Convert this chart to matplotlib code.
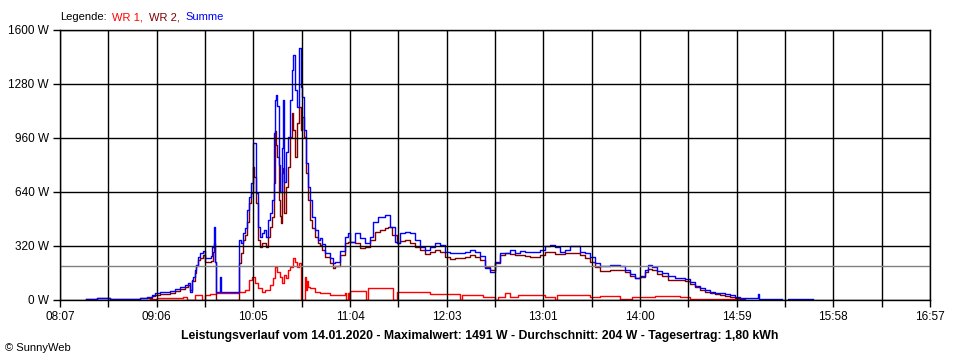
import matplotlib
matplotlib.use("Agg")
import matplotlib.pyplot as plt
import numpy as np
from matplotlib.offsetbox import TextArea, HPacker, AnnotationBbox

plt.rcParams["font.family"] = ["Liberation Sans", "DejaVu Sans"]

# time axis in minutes since midnight: 08:07 .. 16:57
t_start, t_end = 487, 1017
x_labels = ["08:07", "09:06", "10:05", "11:04", "12:03",
            "13:01", "14:00", "14:59", "15:58", "16:57"]
y_ticks = [0, 320, 640, 960, 1280, 1600]
y_labels = ["0 W", "320 W", "640 W", "960 W", "1280 W", "1600 W"]
durchschnitt = 204

# Summe (blue)
summe_t = [503, 509.5, 517.5, 535.7, 540, 543, 545, 548, 554, 557,
           560, 563, 565, 566.2, 567.4, 568, 569.2, 570, 571, 572.3,
           574, 575.3, 577, 579, 579.6, 580.8, 581.4, 582, 584.2, 585,
           596, 597.3, 598.5, 599.7, 600.9, 602.1, 603.4, 604.6, 605.2, 606.4,
           607.6, 608.8, 610.1, 611.3, 612.5, 613.7, 614.9, 616.2, 617.4, 618,
           618.6, 619.2, 620.4, 621, 622.3, 622.9, 623.5, 624.7, 625.9, 627.1,
           628.3, 628.9, 630.2, 631.4, 632.6, 633.8, 634.4, 635.6, 636.9, 638.1,
           639.3, 640.5, 642.3, 644.2, 645.4, 646.6, 648.4, 651.5, 653.3, 654.5,
           657.6, 660.6, 662.4, 663.7, 666.7, 669.8, 672.8, 675.9, 677.7, 680.7,
           685, 688, 691.1, 692.3, 694.1, 697.2, 700.2, 703.3, 706.3, 709.4,
           712.4, 715.5, 718.5, 721.5, 724.6, 727.6, 730.7, 733.7, 736.8, 739.8,
           742.9, 745.9, 749, 752, 755, 758.1, 761.1, 764.2, 767.2, 770.3,
           773.3, 776.4, 779.4, 782.5, 785.5, 788.6, 791.6, 794.6, 797.7, 800.7,
           803.8, 806.8, 809.9, 812.9, 816, 819, 822.1, 825.1, 828.2, 831.2,
           834.2, 837.3, 840.3, 843.4, 845.2, 847.7, 850.7, 853.8, 857.4, 861.7,
           864.7, 867.8, 870.8, 873.8, 876.9, 879.9, 883, 886, 889.1, 892.1,
           895.2, 898.2, 901.3, 912, 912.6, 926.8, 930.5, 945.7]
summe_w = [6, 12, 6, 12, 18, 30, 41, 47, 53, 65,
           77, 89, 100, 47, 118, 136, 178, 207, 255, 278,
           290, 249, 249, 261, 314, 433, 225, 45, 136, 45,
           356, 338, 397, 427, 533, 610, 693, 930, 930, 634,
           433, 373, 397, 415, 373, 474, 515, 593, 990, 1185,
           1215, 1150, 800, 640, 900, 1185, 700, 880, 966, 1185,
           1363, 1452, 1244, 1144, 1491, 1262, 1203, 1007, 811, 670,
           593, 492, 415, 356, 367, 330, 280, 250, 219, 225,
           290, 373, 397, 344, 397, 367, 338, 373, 462, 492,
           504, 433, 344, 338, 397, 403, 397, 356, 314, 296,
           314, 338, 326, 284, 278, 278, 278, 284, 296, 284,
           260, 190, 166, 225, 278, 278, 296, 278, 290, 284,
           284, 284, 296, 320, 326, 314, 284, 296, 320, 320,
           284, 278, 255, 219, 200, 200, 207, 207, 200, 180,
           155, 133, 140, 180, 207, 196, 172, 160, 142, 130,
           130, 124, 107, 83, 71, 59, 47, 41, 41, 36,
           30, 18, 12, 36, 8, np.nan, 8, 8]

# WR 2 (dark red)
wr2_t = [503, 509.5, 517.5, 535.7, 540, 543, 545, 548, 554, 557,
         560, 563, 565, 566.2, 567.4, 569.2, 570, 571, 572.3, 574,
         575.3, 577, 579, 580.2, 580.8, 581.4, 582, 596, 597.3, 598.5,
         599.7, 600.9, 602.1, 603.4, 604.6, 605.2, 606.4, 607.6, 608.8, 610.1,
         611.3, 612.5, 613.7, 614.9, 616.2, 617.4, 618, 618.6, 619.2, 620.4,
         621, 621.6, 622.3, 622.9, 623.5, 624.7, 625.9, 627.1, 628.3, 628.9,
         630.2, 631.4, 632.6, 633.8, 634.4, 635.6, 636.9, 638.1, 639.3, 640.5,
         642.3, 644.2, 645.4, 646.6, 648.4, 651.5, 653.3, 654.5, 657.6, 660.6,
         662.4, 663.7, 666.7, 669.8, 672.8, 675.9, 678.9, 681.9, 685, 686.8,
         689.3, 692.3, 694.1, 697.2, 700.2, 703.3, 706.3, 709.4, 712.4, 715.5,
         718.5, 721.5, 724.6, 727.6, 730.7, 733.7, 736.8, 739.8, 742.9, 745.9,
         749, 752, 755, 758.1, 761.1, 764.2, 767.2, 770.3, 773.3, 776.4,
         779.4, 782.5, 785.5, 788.6, 791.6, 794.6, 797.7, 800.7, 803.8, 806.8,
         809.9, 812.9, 816, 819, 822.1, 825.1, 828.2, 831.2, 834.2, 837.3,
         840.3, 843.4, 845.2, 847.7, 850.7, 853.8, 857.4, 861.7, 864.7, 867.8,
         870.8, 873.8, 876.9, 879.9, 883, 886, 889.1, 892.1, 895.2, 898.2,
         901.3, 904]
wr2_w = [6, 12, 6, 12, 14, 22, 30, 36, 41, 53,
         65, 77, 89, 60, 110, 160, 200, 240, 249, 267,
         225, 225, 230, 284, 338, 225, 0, 219, 278, 356,
         385, 462, 575, 634, 788, 729, 575, 356, 314, 338,
         338, 314, 373, 433, 492, 693, 1000, 920, 847, 593,
         500, 456, 752, 780, 515, 670, 788, 966, 1108, 1007,
         847, 1049, 1144, 1007, 1084, 966, 752, 593, 474, 427,
         373, 338, 326, 296, 255, 219, 190, 200, 267, 338,
         344, 344, 338, 308, 314, 356, 403, 415, 427, 433,
         385, 338, 350, 356, 338, 314, 296, 273, 284, 296,
         284, 255, 243, 249, 249, 255, 267, 255, 240, 196,
         178, 219, 267, 278, 273, 267, 267, 261, 255, 255,
         267, 284, 284, 273, 273, 278, 278, 278, 267, 249,
         225, 196, 170, 172, 180, 180, 178, 166, 145, 130,
         136, 166, 184, 178, 154, 142, 118, 118, 118, 112,
         95, 77, 59, 47, 41, 36, 30, 24, 18, 12,
         6, 6]

# WR 1 (red)
wr1_t = [542, 546, 561.9, 564.4, 569, 573.5, 575.3, 578.4, 582, 596,
         599.7, 602.1, 604, 605.8, 607.6, 610.1, 611.9, 614.9, 616.8, 618,
         619.2, 621, 622.3, 623.5, 624.7, 625.9, 627.1, 628.9, 630.2, 631.4,
         632.6, 633.8, 636.3, 636.9, 637.5, 638.1, 639.3, 642.3, 645.4, 651.5,
         660.6, 661.5, 662.4, 663.1, 663.7, 673.4, 674.6, 689.9, 692.3, 712.4,
         730.7, 731.9, 744.7, 752, 754, 758.1, 761.1, 766, 782.5, 788.6,
         790, 809.9, 816, 828.2, 835.5, 849.5, 864.7, 870.8, 901.3]
wr1_w = [6, 12, 18, 0, 30, 0, 30, 36, 41, 47,
         59, 118, 136, 100, 71, 47, 59, 89, 130, 196,
         166, 136, 100, 148, 130, 178, 196, 249, 225, 196,
         219, 0, 136, 60, 110, 77, 71, 47, 41, 30,
         41, 0, 41, 0, 53, 0, 71, 0, 47, 36,
         0, 30, 18, 0, 18, 41, 18, 30, 18, 0,
         30, 18, 24, 6, 18, 24, 18, 6, 0]

fig = plt.figure(figsize=(9.6, 3.6), dpi=100)
ax = fig.add_axes([60 / 960, 60 / 360, 870 / 960, 270 / 360])

ax.step(wr1_t, wr1_w, where="post", color="#ff0000", lw=1, zorder=2)
ax.step(wr2_t, wr2_w, where="post", color="#800000", lw=1, zorder=2)
ax.step(summe_t, summe_w, where="post", color="#0000ff", lw=1, zorder=2)

ax.set_xlim(t_start, t_end)
ax.set_ylim(0, 1600)

# grid: 18 vertical divisions, labels on every second one
x_grid = np.linspace(t_start, t_end, 19)
for xv in x_grid:
    ax.axvline(xv, color="black", lw=1, zorder=3)
for yv in y_ticks:
    ax.axhline(yv, color="black", lw=1, zorder=3)
ax.axhline(durchschnitt, color="#808080", lw=1, zorder=3)

tick_lbls = []
for i in range(len(x_grid)):
    tick_lbls.append(x_labels[i // 2] if i % 2 == 0 else "")
ax.set_xticks(x_grid, tick_lbls)
ax.set_yticks(y_ticks, y_labels)
ax.tick_params(direction="out", length=5, width=1, labelsize=8.5, pad=3, colors="black")
for s in ax.spines.values():
    s.set_color("black")
    s.set_linewidth(1)
    s.set_zorder(3)

# legend line at top
parts = [TextArea("Legende:", textprops=dict(color="black", size=8)),
         TextArea("WR 1,", textprops=dict(color="#ff0000", size=8)),
         TextArea("WR 2,", textprops=dict(color="#800000", size=8)),
         TextArea("Summe", textprops=dict(color="#0000ff", size=8))]
box = HPacker(children=parts, align="baseline", pad=0, sep=4)
ab = AnnotationBbox(box, (60 / 960, 1 - 17 / 360), xycoords="figure fraction",
                    box_alignment=(0, 0.5), frameon=False, pad=0)
fig.add_artist(ab)

fig.text(480 / 960, 1 - 336 / 360,
         "Leistungsverlauf vom 14.01.2020 - Maximalwert: 1491 W - Durchschnitt: 204 W - Tagesertrag: 1,80 kWh",
         ha="center", va="center", fontsize=8.8, fontweight="bold")
fig.text(5 / 960, 1 - 348 / 360, "\u00a9 SunnyWeb", ha="left", va="center", fontsize=8)

fig.savefig("out.png", dpi=100, facecolor="white")
